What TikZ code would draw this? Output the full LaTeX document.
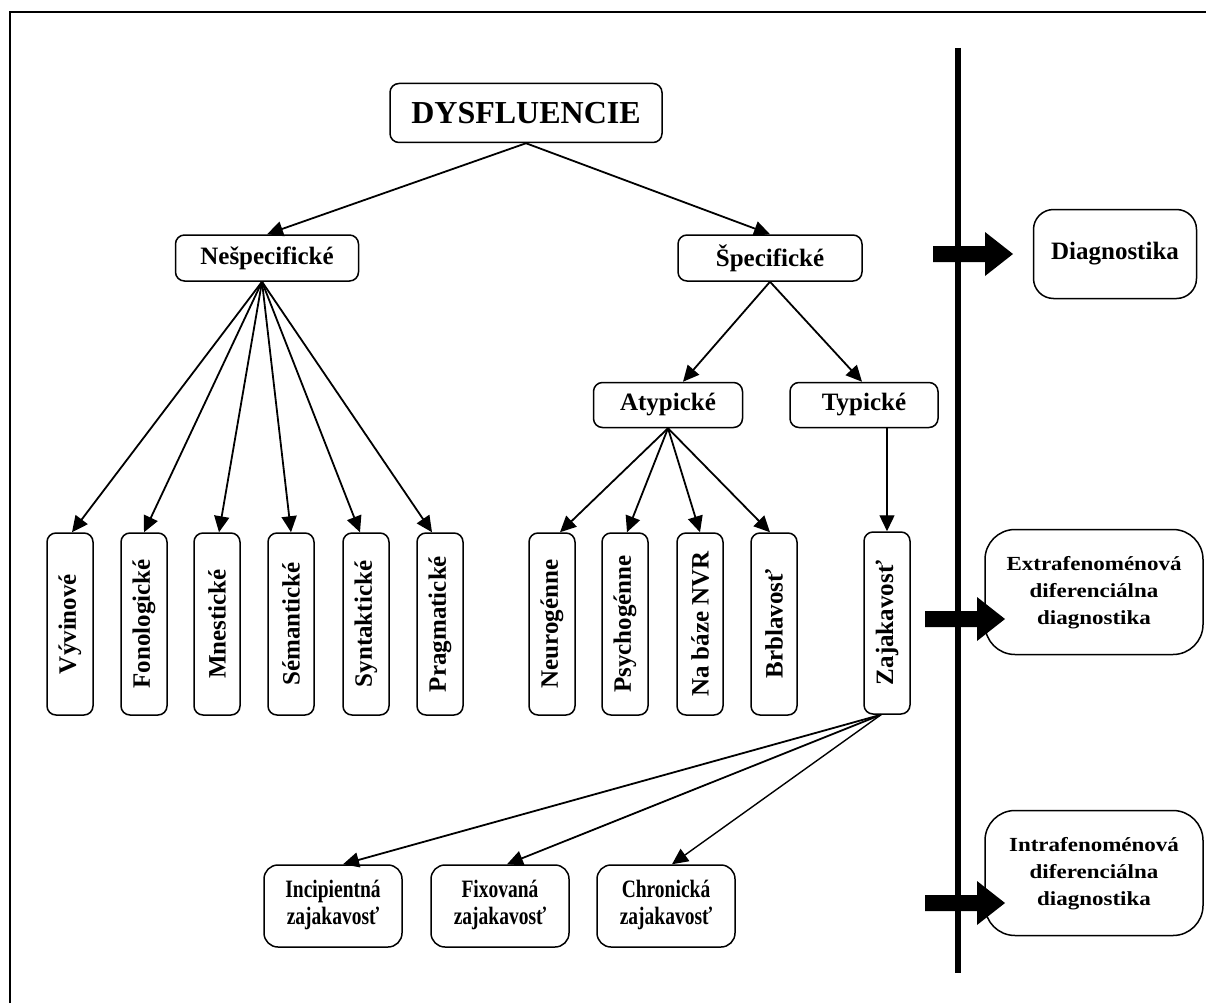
\documentclass[tikz,border=0pt]{standalone}
\usepackage{fontspec}
\setmainfont{Liberation Serif}
\usepackage{graphicx}
\usetikzlibrary{arrows.meta,calc}
\newcommand{\bigarr}[4]{\fill (#1,#4-8) -- (#2,#4-8) -- (#2,#4-22) -- (#3,#4) -- (#2,#4+22) -- (#2,#4+8) -- (#1,#4+8) -- cycle;}
\begin{document}
\begin{tikzpicture}[x=1pt,y=-1pt,
  box/.style={draw, line width=1.5pt, rounded corners=9pt, font=\fontsize{25}{27}\selectfont\bfseries, inner sep=0pt, align=center},
  vbox/.style={box, minimum width=46pt, minimum height=182pt},
  twoline/.style={box, minimum width=138pt, minimum height=82pt, rounded corners=14pt},
  diagbox/.style={box, minimum width=218pt, minimum height=125pt, rounded corners=30pt, font=\fontsize{20}{27}\selectfont\bfseries},
  conn/.style={line width=1.8pt, -{Triangle[length=16pt,width=15pt]}}
]
\useasboundingbox (0,0) rectangle (1206,1003);
\draw[line width=2pt] (10,1003) -- (10,12) -- (1206,12);

% top levels
\node[box, minimum width=272pt, minimum height=59pt, font=\fontsize{32}{34}\selectfont\bfseries] (dys) at (526,113) {DYSFLUENCIE};
\node[box, minimum width=183pt, minimum height=46pt] (nesp) at (267,258) {Nešpecifické};
\node[box, minimum width=184pt, minimum height=46pt] (spec) at (770,258) {Špecifické};
\node[box, minimum width=149pt, minimum height=45pt] (atyp) at (668,405) {Atypické};
\node[box, minimum width=148pt, minimum height=45pt] (typ) at (864,405) {Typické};

% vertical boxes
\node[vbox] (v1) at (70,624) {\rotatebox{90}{Vývinové}};
\node[vbox] (v2) at (144,624) {\rotatebox{90}{Fonologické}};
\node[vbox] (v3) at (217,624) {\rotatebox{90}{Mnestické}};
\node[vbox] (v4) at (291,624) {\rotatebox{90}{Sémantické}};
\node[vbox] (v5) at (366,624) {\rotatebox{90}{Syntaktické}};
\node[vbox] (v6) at (440,624) {\rotatebox{90}{Pragmatické}};

\node[vbox] (a1) at (552,624) {\rotatebox{90}{Neurogénne}};
\node[vbox] (a2) at (625,624) {\rotatebox{90}{Psychogénne}};
\node[vbox] (a3) at (700,624) {\rotatebox{90}{Na báze NVR}};
\node[vbox] (a4) at (774,624) {\rotatebox{90}{Brblavosť}};
\node[vbox] (zaj) at (887,623) {\rotatebox{90}{Zajakavosť}};

% bottom boxes
\node[twoline] (inc) at (333,906) {\scalebox{0.78}[1]{\begin{tabular}{@{}c@{}}Incipientná\\zajakavosť\end{tabular}}};
\node[twoline] (fix) at (500,906) {\scalebox{0.78}[1]{\begin{tabular}{@{}c@{}}Fixovaná\\zajakavosť\end{tabular}}};
\node[twoline] (chr) at (666,906) {\scalebox{0.78}[1]{\begin{tabular}{@{}c@{}}Chronická\\zajakavosť\end{tabular}}};

% right side
\draw[line width=6pt] (958,48) -- (958,973);
\node[box, minimum width=163pt, minimum height=89pt, rounded corners=20pt] (diag) at (1115,254) {Diagnostika};
\node[diagbox] (extra) at (1094,592) {\scalebox{1.15}[1]{\begin{tabular}{@{}c@{}}Extrafenoménová\\diferenciálna\\diagnostika\end{tabular}}};
\node[diagbox] (intra) at (1094,873) {\scalebox{1.15}[1]{\begin{tabular}{@{}c@{}}Intrafenoménová\\diferenciálna\\diagnostika\end{tabular}}};

\bigarr{933}{985}{1013}{254}
\bigarr{925}{977}{1005}{619}
\bigarr{925}{977}{1005}{903}

% connectors
\draw[conn] (dys.south) -- (nesp.north);
\draw[conn] (dys.south) -- (spec.north);
\coordinate (napex) at ($(nesp.south)+(-5,0)$);
\draw[conn] (napex) -- ($(v1.north)+(2,0)$);
\draw[conn] (napex) -- (v2.north);
\draw[conn] (napex) -- ($(v3.north)+(2,0)$);
\draw[conn] (napex) -- (v4.north);
\draw[conn] (napex) -- ($(v5.north)+(-6,0)$);
\draw[conn] (napex) -- ($(v6.north)+(-8,0)$);
\draw[conn] (spec.south) -- ($(atyp.north)+(15,0)$);
\draw[conn] (spec.south) -- ($(typ.north)+(-2,0)$);
\draw[conn] (atyp.south) -- ($(a1.north)+(8,0)$);
\draw[conn] (atyp.south) -- ($(a2.north)+(2,0)$);
\draw[conn] (atyp.south) -- (a3.north);
\draw[conn] (atyp.south) -- ($(a4.north)+(-4,0)$);
\draw[line width=1.4pt, -{Triangle[length=16pt,width=15pt]}] (typ.south -| zaj.north) -- (zaj.north);
\coordinate (zapex) at ($(zaj.south)+(-6,0)$);
\draw[conn] (zapex) -- ($(inc.north)+(10,0)$);
\draw[conn] (zapex) -- ($(fix.north)+(7,0)$);
\draw[line width=1.4pt, -{Triangle[length=16pt,width=15pt]}] (zapex) -- ($(chr.north)+(6,0)$);
\end{tikzpicture}
\end{document}
